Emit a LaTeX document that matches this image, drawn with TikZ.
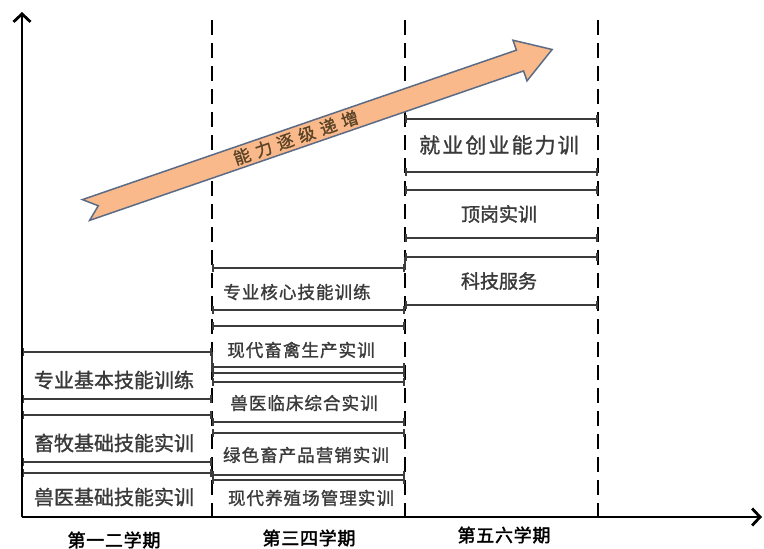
\documentclass[tikz,border=0pt]{standalone}
\usepackage{fontspec}
\usetikzlibrary{arrows.meta}
\newfontfamily\cjk[FakeBold=1.4]{Noto Sans CJK SC}
\newfontfamily\cjkm[FakeBold=1.4,LetterSpace=6]{Noto Sans CJK SC}
\newfontfamily\cjkw[FakeBold=1.2,LetterSpace=10]{Noto Sans CJK SC}
\newfontfamily\cjka[FakeBold=1.2,LetterSpace=34]{Noto Sans CJK SC}
\newfontfamily\cjkb[FakeBold=2,LetterSpace=4]{Noto Sans CJK SC}
\definecolor{boxline}{HTML}{3C3C3C}
\definecolor{txt}{HTML}{3A3A3A}
\definecolor{arrfill}{HTML}{F9B98B}
\definecolor{arrline}{HTML}{5B6B85}
\definecolor{arrtxt}{HTML}{5A4326}
\begin{document}
\begin{tikzpicture}[x=1pt,y=-1pt,
  bl/.style={draw=boxline, line width=1.8pt, {Bar[width=8pt]}-{Bar[width=8pt]}},
  vdash/.style={draw=black, line width=2.8pt, dash pattern=on 15pt off 8pt},
  axisline/.style={draw=black, line width=2.8pt, -{Straight Barb[length=8pt,width=17pt,line width=2.8pt]}},
  labl/.style={font=\cjk\fontsize{20}{20}\selectfont, text=txt, inner sep=0pt},
  labm/.style={font=\cjkm\fontsize{17.5}{18}\selectfont, text=txt, inner sep=0pt},
  labr/.style={font=\cjk\fontsize{19}{19}\selectfont, text=txt, inner sep=0pt},
  labw/.style={font=\cjkw\fontsize{21}{21}\selectfont, text=txt, inner sep=0pt},
  sem/.style={font=\cjkb\fontsize{18}{18}\selectfont, text=black, inner sep=0pt}]
\useasboundingbox (0,0) rectangle (764,549);

% dashed semester separators
\coordinate (s1t) at (212,20); \coordinate (s1b) at (212,517);
\coordinate (s2t) at (405,20); \coordinate (s2b) at (405,517);
\coordinate (s3t) at (598,20); \coordinate (s3b) at (598,517);
\draw[vdash] (s1t) -- (s1b);
\draw[vdash] (s2t) -- (s2b);
\draw[vdash] (s3t) -- (s3b);

% left column box lines
\foreach \y in {352,399,415,462,473} \draw[bl] (22,\y) -- (212,\y);
% middle column box lines
\foreach \y in {268,310,326,367,373,382,422,433,475,480} \draw[bl] (212,\y) -- (405,\y);
% right column box lines
\foreach \y in {119,172,190,238,257,305} \draw[bl] (405,\y) -- (598,\y);
% steps
\draw[draw=boxline, line width=1.8pt] (405,257) -- (405,270);
\draw[draw=boxline, line width=1.8pt] (212,352) -- (212,372);

% axes
\coordinate (o) at (22,517);
\coordinate (ytip) at (22,12);
\coordinate (xtip) at (762,517);
\draw[axisline] (o) -- (ytip);
\draw[axisline] (o) -- (xtip);

% box texts
\node[labl] (a1) at (114,380) {专业基本技能训练};
\node[labl] (a2) at (114,443) {畜牧基础技能实训};
\node[labl] (a3) at (114,497) {兽医基础技能实训};
\node[labm] (b1) at (297,292) {专业核心技能训练};
\node[labm] (b2) at (301,350) {现代畜禽生产实训};
\node[labm] (b3) at (304,403) {兽医临床综合实训};
\node[labm] (b4) at (306,455) {绿色畜产品营销实训};
\node[labm] (b5) at (311,498) {现代养殖场管理实训};
\node[labw] (c1) at (499,145) {就业创业能力训};
\node[labr] (c2) at (499,214) {顶岗实训};
\node[labr] (c3) at (499,281) {科技服务};

% semester labels
\node[sem] (t1) at (114,540) {第一二学期};
\node[sem] (t2) at (309,538) {第三四学期};
\node[sem] (t3) at (504,535) {第五六学期};

% big arrow
\begin{scope}[shift={(86,210)}, rotate=19]
  \draw[fill=arrfill, draw=arrline, line width=1.5pt, line join=miter]
    (0,-11) -- (459,-11) -- (459,-21.5) -- (493,0) -- (459,21.5) -- (459,11) -- (0,11) -- (13,0) -- cycle;
  \node[font=\cjka\fontsize{17}{17}\selectfont, text=arrtxt, rotate=19, inner sep=0pt] (arrtext) at (222,0) {能力逐级递增};
\end{scope}
\end{tikzpicture}
\end{document}
